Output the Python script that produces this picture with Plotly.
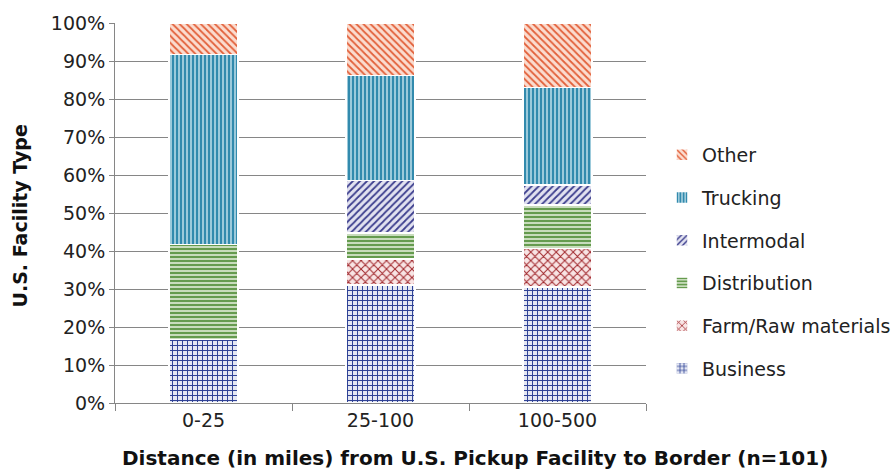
import plotly.graph_objects as go

# Share of U.S. pickup facility types by distance band (percent of each band)
categories = ["0-25", "25-100", "100-500"]
business = [16.7, 31.0, 30.5]
farm_raw = [0.0, 6.9, 10.2]
distribution = [25.0, 6.9, 11.4]
intermodal = [0.0, 13.8, 5.3]
trucking = [50.0, 27.6, 25.6]
other = [8.3, 13.8, 17.0]

y_tick_values = [0, 10, 20, 30, 40, 50, 60, 70, 80, 90, 100]
y_tick_labels = [f"{v}%" for v in y_tick_values]

series = [
    ("Business", business, dict(shape="+", fgcolor="#2B3F94", bgcolor="#E4E7F3", size=5, solidity=0.35)),
    ("Farm/Raw materials", farm_raw, dict(shape="x", fgcolor="#A0262B", bgcolor="#F8E4E4", size=6, solidity=0.3)),
    ("Distribution", distribution, dict(shape="-", fgcolor="#4C8A31", bgcolor="#C8DCBC", size=4, solidity=0.4)),
    ("Intermodal", intermodal, dict(shape="/", fgcolor="#3D3F8E", bgcolor="#E2E2F0", size=5, solidity=0.35)),
    ("Trucking", trucking, dict(shape="|", fgcolor="#177AA2", bgcolor="#9CCADB", size=4, solidity=0.4)),
    ("Other", other, dict(shape="\\", fgcolor="#E2603A", bgcolor="#FBDCCF", size=5, solidity=0.35)),
]

FONT = "DejaVu Sans"
AXIS_GREY = "#868686"

fig = go.Figure()
for i, (name, values, pattern) in enumerate(series):
    fig.add_trace(go.Bar(
        name=name,
        x=categories,
        y=values,
        width=0.39,
        legendgroup=name,
        legendrank=len(series) - i,  # top of the stack listed first
        marker=dict(
            color=pattern["bgcolor"],
            pattern=dict(fillmode="replace", **pattern),
            line=dict(color="white", width=1.5),
        ),
    ))

fig.update_layout(
    barmode="stack",
    width=896,
    height=471,
    margin=dict(l=115, r=250, t=20, b=68),
    paper_bgcolor="white",
    plot_bgcolor="white",
    font=dict(family=FONT, size=19, color="#222222"),
    showlegend=True,
    legend=dict(
        traceorder="grouped",
        tracegroupgap=15,
        xref="container",
        yref="container",
        x=662 / 896,
        y=1 - 262 / 471,
        xanchor="left",
        yanchor="middle",
        maxheight=1.0,
        font=dict(family=FONT, size=19, color="#222222"),
        bgcolor="rgba(0,0,0,0)",
        itemwidth=30,
    ),
)

fig.update_xaxes(
    showgrid=False,
    showline=True,
    linecolor=AXIS_GREY,
    linewidth=1,
    ticks="outside",
    tickson="boundaries",
    ticklen=7,
    tickcolor=AXIS_GREY,
    tickfont=dict(family=FONT, size=19, color="#222222"),
)

fig.update_yaxes(
    range=[0, 100],
    tickvals=y_tick_values,
    ticktext=y_tick_labels,
    showgrid=True,
    gridcolor=AXIS_GREY,
    gridwidth=1,
    zeroline=False,
    showline=True,
    linecolor=AXIS_GREY,
    linewidth=1,
    ticks="outside",
    ticklen=5,
    tickcolor=AXIS_GREY,
    tickfont=dict(family=FONT, size=19, color="#222222"),
)

# Axis titles placed as annotations
fig.add_annotation(
    text="<b>Distance (in miles) from U.S. Pickup Facility to Border (n=101)</b>",
    xref="paper", yref="paper",
    x=(475 - 115) / 531, y=-0.145,
    xanchor="center", yanchor="middle",
    showarrow=False,
    font=dict(family=FONT, size=20, color="#111111"),
)
fig.add_annotation(
    text="<b>U.S. Facility Type</b>",
    xref="paper", yref="paper",
    x=(20 - 115) / 531, y=(403 - 215) / 383,
    xanchor="center", yanchor="middle",
    textangle=-90,
    showarrow=False,
    font=dict(family=FONT, size=19, color="#111111"),
)

fig.write_html("out.html")
